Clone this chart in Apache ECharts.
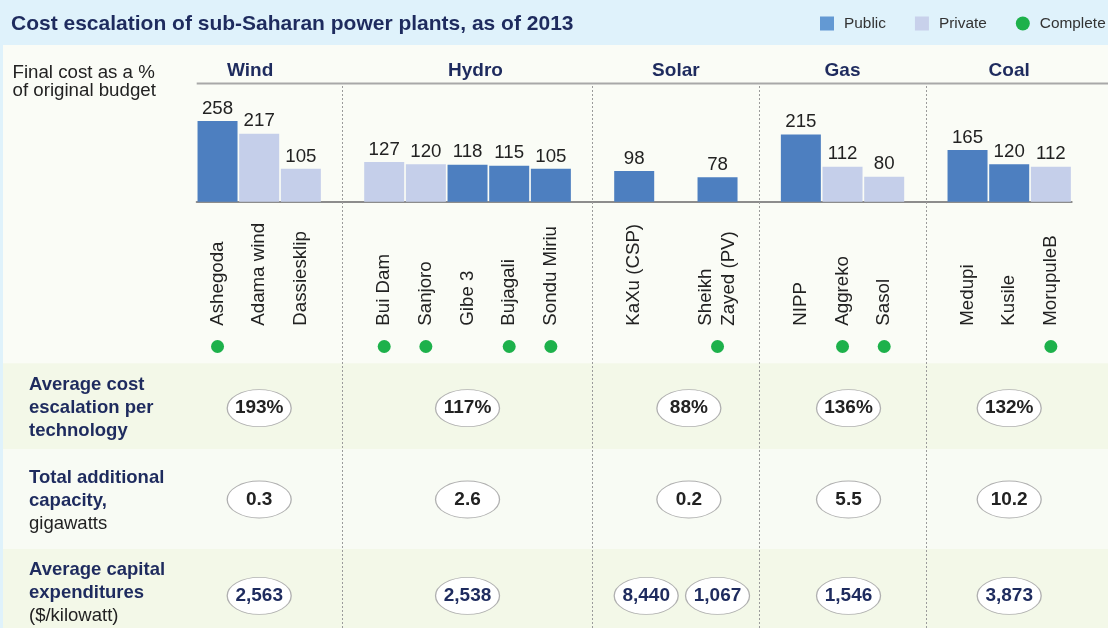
<!DOCTYPE html>
<html><head><meta charset="utf-8">
<script src="https://cdn.jsdelivr.net/npm/echarts@6/dist/echarts.min.js"></script>
<style>html,body{margin:0;padding:0;background:#dff2fb}#c{width:1108px;height:628px}</style>
</head><body><div id="c"></div>
<script>
// ---------------- data ----------------
const technologies = ['Wind', 'Hydro', 'Solar', 'Gas', 'Coal'];
const plants = ['Ashegoda', 'Adama wind', 'Dassiesklip', 'Bui Dam', 'Sanjoro', 'Gibe 3', 'Bujagali', 'Sondu Miriu',
  'KaXu (CSP)', 'Sheikh\nZayed (PV)', 'NIPP', 'Aggreko', 'Sasol', 'Medupi', 'Kusile', 'MorupuleB'];
const plantTechnology = ['Wind', 'Wind', 'Wind', 'Hydro', 'Hydro', 'Hydro', 'Hydro', 'Hydro',
  'Solar', 'Solar', 'Gas', 'Gas', 'Gas', 'Coal', 'Coal', 'Coal'];
const finalCostPct = [258, 217, 105, 127, 120, 118, 115, 105, 98, 78, 215, 112, 80, 165, 120, 112];
const ownership = ['Public', 'Private', 'Private', 'Private', 'Private', 'Public', 'Public', 'Public',
  'Public', 'Public', 'Public', 'Private', 'Private', 'Public', 'Public', 'Private'];
const complete = [true, false, false, true, true, false, true, true, false, true, false, true, true, false, false, true];
const avgEscalationPct = [193, 117, 88, 136, 132];
const addedCapacityGW = [0.3, 2.6, 0.2, 5.5, 10.2];
const capexPerKW = [[2563], [2538], [8440, 1067], [1546], [3873]];
const rowTitles = ['Average cost\nescalation per\ntechnology', 'Total additional\ncapacity,\ngigawatts', 'Average capital\nexpenditures\n($/kilowatt)'];
const rowTitleBoldLines = [3, 2, 2];

// ---------------- layout helpers ----------------
const NAVY = '#1e2b5e';
const slots = [];          // category slots of the shared x axis
const groupSlots = [];     // per technology: slot indices of its plants
const sepSlots = [];
technologies.forEach((t, ti) => {
  if (ti > 0) { sepSlots.push(slots.length); slots.push({ id: '_gap' + ti }); }
  const own = [];
  plants.forEach((p, pi) => {
    if (plantTechnology[pi] !== t) return;
    if (own.length > 0 && t === 'Solar') slots.push({ id: '_sp' + ti });
    own.push(slots.length);
    slots.push({ id: p, p: pi });
  });
  groupSlots.push(own);
});
const slotIds = slots.map(s => s.id);
const groupCenter = groupSlots.map(g => (g[0] + g[g.length - 1]) / 2);
const colOffset = [0, 0, 13, 6, 0];
const headerShift = [-9, 8, 0, 0, 0];
const rowShift = [0, -1, 3];

const barData = own => slots.map(s => (s.p != null && ownership[s.p] === own) ? finalCostPct[s.p] : null);
const headerAt = {}; groupCenter.forEach((c, i) => headerAt[c] = i);

function rowItems(row, texts) {
  const items = [];
  texts.forEach((t, ti) => {
    if (Array.isArray(t) && t.length > 1) {
      t.forEach((v, k) => items.push({ value: [groupSlots[ti][k], row], txt: v.toLocaleString('en-US'),
        symbolOffset: [k === 0 ? 12 : 0, rowShift[row]] }));
    } else {
      const v = Array.isArray(t) ? t[0] : t;
      items.push({ value: [groupCenter[ti], row], txt: row === 0 ? v + '%' : v.toLocaleString('en-US', { minimumFractionDigits: row === 1 ? 1 : 0 }),
        symbolOffset: [colOffset[ti], rowShift[row]] });
    }
  });
  return items;
}

const L = 196.7, W = 875;
const ellipse = (row, data, color) => ({
  type: 'scatter', xAxisIndex: 4, yAxisIndex: 3, data, symbol: 'circle', symbolSize: [64, 37], silent: true,
  itemStyle: { color: '#ffffff', borderColor: '#b0b0b0', borderWidth: 1, opacity: 1 },
  label: { show: true, position: 'inside', formatter: p => p.data.txt, color, fontSize: 19, fontWeight: 'bold' },
  z: 5
});

const headerRich = {};
headerShift.forEach((s, i) => {
  headerRich['h' + i] = { fontSize: 19, fontWeight: 'bold', color: NAVY,
    padding: [0, s < 0 ? -2 * s : 0, 0, s > 0 ? 2 * s : 0] };
});

const chart = echarts.init(document.getElementById('c'), null, { renderer: 'canvas' });
chart.setOption({
  animation: false,
  backgroundColor: '#dff2fb',
  textStyle: { fontFamily: 'Liberation Sans, Arial, Helvetica, sans-serif' },
  graphic: [
    { type: 'rect', z: -10, shape: { x: 3, y: 45, width: 1105, height: 583 }, style: { fill: '#fafcf6' } },
    { type: 'rect', z: -9, shape: { x: 3, y: 363.3, width: 1105, height: 86 }, style: { fill: '#f3f8e8' } },
    { type: 'rect', z: -9, shape: { x: 3, y: 449.3, width: 1105, height: 99.7 }, style: { fill: '#f8fbf4' } },
    { type: 'rect', z: -9, shape: { x: 3, y: 549, width: 1105, height: 79 }, style: { fill: '#f3f8e8' } },
    { type: 'line', z: 1, shape: { x1: L, y1: 83.5, x2: 1108, y2: 83.5 }, style: { stroke: '#a8a8a8', lineWidth: 2 } }
  ],
  title: [
    { text: 'Cost escalation of sub-Saharan power plants, as of 2013', left: 11, top: 14, padding: 0,
      textStyle: { color: NAVY, fontSize: 21, fontWeight: 'bold' } },
    { text: 'Final cost as a %\nof original budget', left: 12.5, top: 63.5, padding: 0,
      textStyle: { color: '#222', fontSize: 18.7, fontWeight: 'normal', lineHeight: 18.5 } }
  ],
  legend: {
    top: 16, left: 820, padding: 0, itemWidth: 14, itemHeight: 14, itemGap: 29, selectedMode: false,
    textStyle: { fontSize: 15.4, color: '#333', padding: [0, 0, 0, 5] },
    data: [
      { name: 'Public', icon: 'rect', itemStyle: { color: '#6399d3' } },
      { name: 'Private', icon: 'rect', itemStyle: { color: '#c8d1eb' } },
      { name: 'Complete', icon: 'circle', itemStyle: { color: '#1db14b', opacity: 1 } }
    ]
  },
  grid: [
    { left: L, width: W, top: 101.6, height: 100.1, outerBoundsMode: 'none' },
    { left: L, width: W, top: 84, height: 544, outerBoundsMode: 'none' },
    { left: L, width: W, top: 336, height: 21, outerBoundsMode: 'none' },
    { left: L, width: W, top: 362, height: 277, outerBoundsMode: 'none' }
  ],
  xAxis: [
    { gridIndex: 0, type: 'category', data: slotIds, position: 'bottom',
      axisLine: { lineStyle: { color: '#8c8c8c', width: 2 } }, axisTick: { show: false },
      axisLabel: { interval: 0, rotate: 90, align: 'left', verticalAlign: 'middle', margin: 124,
        fontSize: 18.7, color: '#222', lineHeight: 23, formatter: v => v.startsWith('_') ? '' : v } },
    { gridIndex: 0, type: 'category', data: slotIds, position: 'top',
      axisLine: { show: false }, axisTick: { show: false },
      axisLabel: { interval: 0, margin: 21, fontSize: 19, fontWeight: 'bold', color: NAVY, rich: headerRich,
        formatter: (v, i) => headerAt[i] != null ? '{h' + headerAt[i] + '|' + technologies[headerAt[i]] + '}' : '' } },
    { gridIndex: 1, type: 'category', data: slotIds, show: false },
    { gridIndex: 2, type: 'category', data: slotIds, show: false },
    { gridIndex: 3, type: 'category', data: slotIds, show: false }
  ],
  yAxis: [
    { gridIndex: 0, type: 'value', min: 0, max: 320, show: false },
    { gridIndex: 1, type: 'value', min: 0, max: 1, show: false },
    { gridIndex: 2, type: 'category', data: ['complete'], show: false },
    { gridIndex: 3, type: 'category', data: ['esc', 'cap', 'capex'], inverse: true,
      axisLine: { show: false }, axisTick: { show: false }, splitLine: { show: false },
      axisLabel: { margin: L - 29, align: 'left',
        formatter: (v, i) => rowTitles[i].split('\n').map((ln, k) => (k < rowTitleBoldLines[i] ? '{b|' : '{r|') + ln + '}').join('\n'),
        rich: {
          b: { fontWeight: 'bold', color: NAVY, fontSize: 18.5, lineHeight: 23 },
          r: { color: '#222', fontSize: 18.5, lineHeight: 23 }
        } } }
  ],
  series: [
    { name: 'Public', type: 'bar', xAxisIndex: 0, yAxisIndex: 0, data: barData('Public'), barWidth: 40, barGap: '-100%',
      itemStyle: { color: '#4d7fc0' },
      label: { show: true, position: 'top', distance: 3, color: '#222', fontSize: 18.7 } },
    { name: 'Private', type: 'bar', xAxisIndex: 0, yAxisIndex: 0, data: barData('Private'), barWidth: 40, barGap: '-100%',
      itemStyle: { color: '#c5cfea' },
      label: { show: true, position: 'top', distance: 3, color: '#222', fontSize: 18.7 } },
    { name: 'sep', type: 'line', xAxisIndex: 2, yAxisIndex: 1, data: [], silent: true,
      markLine: { silent: true, symbol: 'none', label: { show: false }, animation: false,
        lineStyle: { color: '#9b9b9b', type: [2, 2], width: 1 },
        data: sepSlots.map(i => ({ xAxis: i })) } },
    { name: 'Complete', type: 'scatter', xAxisIndex: 3, yAxisIndex: 2, symbolSize: 13,
      itemStyle: { color: '#1db14b', opacity: 1 },
      data: slots.map((s, i) => (s.p != null && complete[s.p]) ? [i, 0] : null).filter(Boolean) },
    ellipse(0, rowItems(0, avgEscalationPct), '#222'),
    ellipse(1, rowItems(1, addedCapacityGW), '#222'),
    ellipse(2, rowItems(2, capexPerKW), NAVY)
  ]
});
</script></body></html>
